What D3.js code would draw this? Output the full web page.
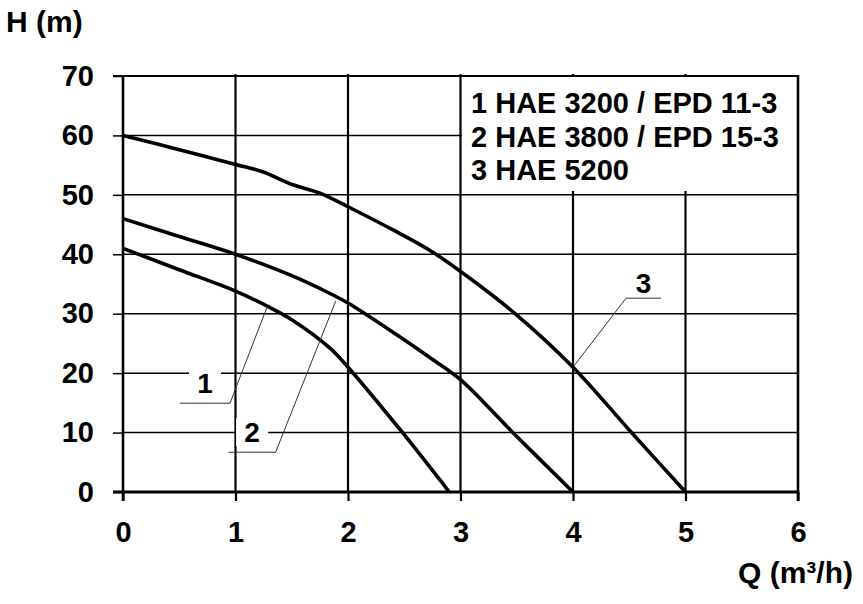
<!DOCTYPE html>
<html>
<head>
<meta charset="utf-8">
<script src="https://cdn.jsdelivr.net/npm/d3@7"></script>
<style>
  body { margin: 0; background: #fff; }
  svg text { font-family: Arial, "Liberation Sans", sans-serif; font-weight: bold; fill: #000; }
</style>
</head>
<body>
<div id="chart"></div>
<script>
// ---- data ----
const qTicks = [0, 1, 2, 3, 4, 5, 6];
const hTicks = [0, 10, 20, 30, 40, 50, 60, 70];

// pump curves: [Q (m3/h), H (m)]
const pump1 = [[0, 41], [0.5, 37.4], [1, 33.8], [1.3, 31.1], [1.5, 29], [1.84, 24.2], [2, 21], [2.48, 10.1], [2.9, 0]];
const pump2 = [[0, 46], [0.5, 43], [1, 40], [1.5, 36.4], [1.84, 33.4], [2, 31.8], [2.43, 26.5], [2.73, 22.6], [3, 18.9], [3.46, 10.1], [4, 0]];
const pump3 = [[0, 60], [0.5, 57.6], [1, 55.1], [1.24, 53.9], [1.51, 51.7], [1.75, 50.3], [2, 48], [2.43, 43.8], [2.75, 40.4], [3.08, 36], [3.48, 30.1], [4, 21], [4.52, 10], [5, 0]];

const legendLines = ["1 HAE 3200 / EPD 11-3", "2 HAE 3800 / EPD 15-3", "3 HAE 5200"];

// callout labels: curve number and the point on the curve they point to
const callouts = [
  { label: "1", q: 1.28, h: 31.1, dx: -37, dy: 96, tail: -50 },
  { label: "2", q: 1.89, h: 32.1, dx: -60, dy: 151, tail: -47 },
  { label: "3", q: 4.0, h: 21.0, dx: 53, dy: -69, tail: 35 }
];

const W = 863, H = 604;
const plotLeft = 123, plotRight = 798, plotTop = 76, plotBottom = 492;

const svg = d3.select("#chart")
  .append("svg")
  .attr("width", W)
  .attr("height", H);

svg.append("rect").attr("width", W).attr("height", H).attr("fill", "#fff");

const x = d3.scaleLinear().domain([0, 6]).range([plotLeft, plotRight]);
const y = d3.scaleLinear().domain([0, 70]).range([plotBottom, plotTop]);

// horizontal grid
svg.append("g")
  .selectAll("line")
  .data(hTicks.filter(d => d > 0 && d < 70))
  .enter()
  .append("line")
  .attr("x1", x(0))
  .attr("x2", x(6))
  .attr("y1", d => y(d))
  .attr("y2", d => y(d))
  .attr("stroke", "#000")
  .attr("stroke-width", 1.5);

// vertical grid
svg.append("g")
  .selectAll("line")
  .data(qTicks.filter(d => d > 0 && d < 6))
  .enter()
  .append("line")
  .attr("x1", d => x(d))
  .attr("x2", d => x(d))
  .attr("y1", y(70) - 2)
  .attr("y2", y(0))
  .attr("stroke", "#000")
  .attr("stroke-width", 2.2);

// legend box covers the grid
svg.append("rect")
  .attr("x", x(3) + 1.5)
  .attr("y", y(70))
  .attr("width", x(6) - x(3) - 1.5)
  .attr("height", 115)
  .attr("fill", "#fff");

legendLines.forEach((t, i) => {
  svg.append("text")
    .attr("x", 471)
    .attr("y", 113 + i * 33.5)
    .style("font-size", "29px")
    .text(t);
});

// axes
const yAxis = svg.append("g")
  .attr("transform", `translate(${plotLeft},0)`)
  .call(d3.axisLeft(y).tickValues(hTicks).tickFormat(d3.format("d")).tickSize(10).tickPadding(19));
yAxis.select(".domain").remove();
yAxis.selectAll("line").attr("stroke", "#000").attr("stroke-width", 1.5);
yAxis.selectAll("text").style("font-size", "29px").attr("font-family", null);

const xAxis = svg.append("g")
  .attr("transform", `translate(0,${plotBottom})`)
  .call(d3.axisBottom(x).tickValues(qTicks).tickFormat(d3.format("d")).tickSize(9).tickPadding(20));
xAxis.select(".domain").remove();
xAxis.selectAll("line").attr("stroke", "#000").attr("stroke-width", 2.2);
xAxis.selectAll("text").style("font-size", "29px").attr("font-family", null);

// frame
svg.append("line")
  .attr("x1", x(0) - 10).attr("x2", x(6))
  .attr("y1", y(70)).attr("y2", y(70))
  .attr("stroke", "#000").attr("stroke-width", 2);
svg.append("line")
  .attr("x1", x(0) - 10).attr("x2", x(6) + 1.2)
  .attr("y1", y(0)).attr("y2", y(0))
  .attr("stroke", "#000").attr("stroke-width", 3);
svg.append("line")
  .attr("x1", x(0)).attr("x2", x(0))
  .attr("y1", y(70)).attr("y2", y(0) + 9)
  .attr("stroke", "#000").attr("stroke-width", 2.6);
svg.append("line")
  .attr("x1", x(6)).attr("x2", x(6))
  .attr("y1", y(70) - 1).attr("y2", y(0) + 9)
  .attr("stroke", "#000").attr("stroke-width", 2.6);

// pump curves
const line = d3.line()
  .x(d => x(d[0]))
  .y(d => y(d[1]))
  .curve(d3.curveCatmullRom.alpha(0.5));

[pump1, pump2, pump3].forEach(p => {
  svg.append("path")
    .datum(p)
    .attr("d", line)
    .attr("fill", "none")
    .attr("stroke", "#000")
    .attr("stroke-width", 3.6)
    .attr("stroke-linejoin", "round");
});

// callouts
callouts.forEach(c => {
  const ax = x(c.q), ay = y(c.h);
  const ex = ax + c.dx, ey = ay + c.dy;
  const tx = ex + c.tail / 2;
  const ty = c.dy > 0 ? ey - 10 : ey - 5;

  svg.append("rect")
    .attr("x", tx - 16)
    .attr("y", ty - 24)
    .attr("width", 32)
    .attr("height", 28)
    .attr("fill", "#fff");

  svg.append("polyline")
    .attr("points", `${ax},${ay} ${ex},${ey} ${ex + c.tail},${ey}`)
    .attr("fill", "none")
    .attr("stroke", "#333")
    .attr("stroke-width", 1);

  svg.append("text")
    .attr("x", tx)
    .attr("y", ty)
    .attr("text-anchor", "middle")
    .style("font-size", "28px")
    .text(c.label);
});

// axis titles
svg.append("text")
  .attr("x", 6)
  .attr("y", 32)
  .style("font-size", "30px")
  .text("H (m)");

svg.append("text")
  .attr("x", 853)
  .attr("y", 583)
  .attr("text-anchor", "end")
  .style("font-size", "30px")
  .text("Q (m³/h)");
</script>
</body>
</html>
